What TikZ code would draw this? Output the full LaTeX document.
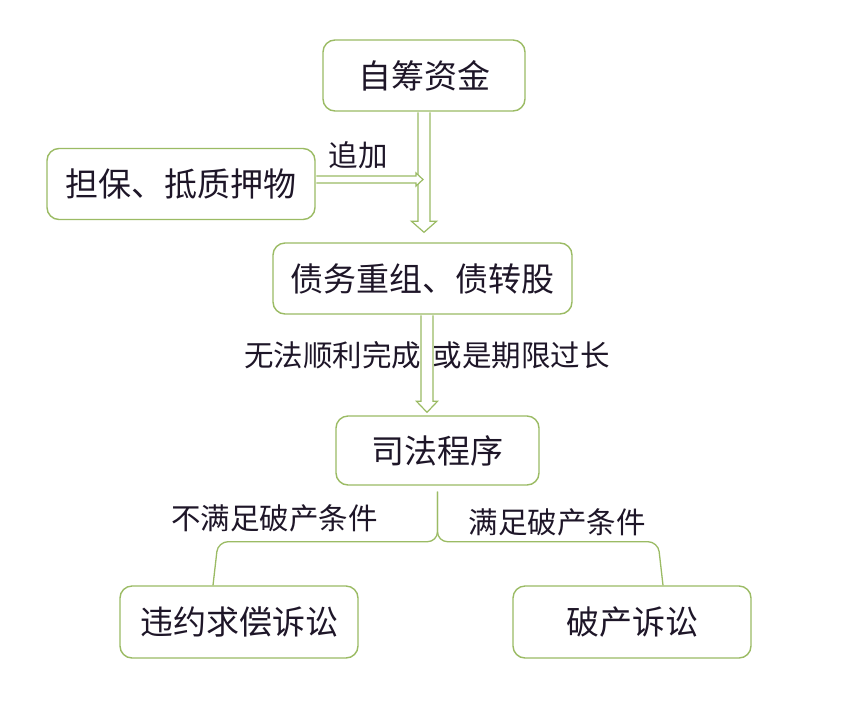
\documentclass[tikz,border=0pt]{standalone}
\usepackage{fontspec}
\setmainfont{Noto Sans CJK SC}
\usetikzlibrary{calc}
\definecolor{boxgreen}{RGB}{155,187,100}
\definecolor{ink}{RGB}{30,22,40}
\begin{document}
\begin{tikzpicture}[x=1pt,y=-1pt,
  box/.style={draw=boxgreen, line width=1.4pt, rounded corners=12pt, fill=white, text=ink,
    font=\fontsize{33}{36}\selectfont, inner sep=0pt, minimum height=71pt},
  lbl/.style={text=ink, font=\fontsize{29.5}{32}\selectfont, inner sep=0pt},
  hollow/.style={draw=boxgreen, line width=1.2pt, fill=white, line join=miter},
  branch/.style={draw=boxgreen, line width=1.3pt, rounded corners=10pt}]
\useasboundingbox[fill=white] (0,0) rectangle (848,710);
% boxes
\node[box, minimum width=202pt] (b1) at (424,75.5) {自筹资金};
\node[box, minimum width=268pt] (b2) at (181,184) {担保、抵质押物};
\node[box, minimum width=299pt] (b3) at (422.5,278.5) {债务重组、债转股};
\node[box, minimum width=203pt, minimum height=69pt] (b4) at (437.5,450.5) {司法程序};
\node[box, minimum width=238pt, minimum height=72pt] (b5) at (239,622) {违约求偿诉讼};
\node[box, minimum width=238pt, minimum height=72pt] (b6) at (632,622) {破产诉讼};
% labels
\node[lbl] (l1) at (358,155) {追加};
\node[lbl] (l2) at (427,355) {无法顺利完成\hspace{11.6pt}或是期限过长};
\node[lbl] (l3) at (274.5,518) {不满足破产条件};
\node[lbl] (l4) at (557,522) {满足破产条件};
% hollow arrow 1 (b1 -> b3)
\draw[hollow] let \p1=($(b1.south)+(0,0.7)$), \p2=($(b3.north)+(0,-10)$) in
  (\x1-6pt,\y1) -- (\x1-6pt,\y2+11pt) -- (\x1-12.5pt,\y2+11pt) -- (\x1,\y2)
  -- (\x1+12.5pt,\y2+11pt) -- (\x1+6pt,\y2+11pt) -- (\x1+6pt,\y1);
% hollow arrow (b2 -> shaft of arrow 1)
\draw[hollow] let \p1=($(b2.east)+(0.7,-4.5)$), \p2=($(b1.south)+(-1,0)$) in
  (\x1,\y1+3.5pt) -- (\x2-7pt,\y1+3.5pt) -- (\x2-7pt,\y1+6.5pt) -- (\x2,\y1)
  -- (\x2-7pt,\y1-6.5pt) -- (\x2-7pt,\y1-3.5pt) -- (\x1,\y1-3.5pt);
% hollow arrow 2 (b3 -> b4)
\draw[hollow] let \p1=($(b3.south)+(4.5,0.7)$), \p2=($(b4.north)+(0,-3)$) in
  (\x1-6pt,\y1) -- (\x1-6pt,\y2+11pt) -- (\x1-10.5pt,\y2+11pt) -- (\x1,\y2)
  -- (\x1+10.5pt,\y2+11pt) -- (\x1+6pt,\y2+11pt) -- (\x1+6pt,\y1);
% branches
\coordinate (jt) at ($(b4.south)+(0,6)$);
\coordinate (jm) at ($(jt)+(0,50)$);
\draw[branch] (jt) -- (jm) -- ($(jm -| b5.north)+(-21,0)$) -- ($(b5.north)+(-26,0)$);
\draw[branch] (jt) -- (jm) -- ($(jm -| b6.north)+(26,0)$) -- ($(b6.north)+(31,0)$);
\end{tikzpicture}
\end{document}
